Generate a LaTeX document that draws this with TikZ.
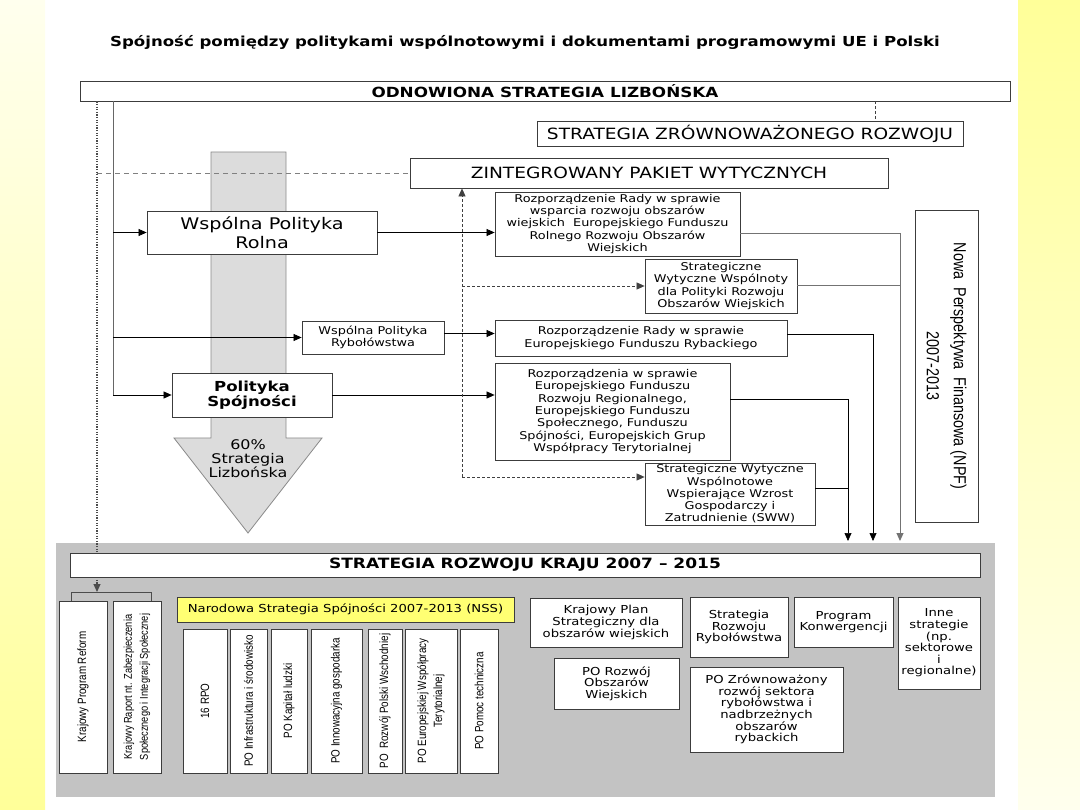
\documentclass[tikz,border=0pt]{standalone}
\usepackage{fontspec}
\setmainfont[FakeStretch=1.2]{DejaVu Sans}
\newfontfamily\narrowfont[FakeStretch=0.82]{Liberation Sans}
\usetikzlibrary{arrows.meta}
\definecolor{yel}{HTML}{FFFF99}
\definecolor{yelpale}{HTML}{FFFFEE}
\definecolor{panelc}{HTML}{C3C3C3}
\definecolor{colfill}{HTML}{DCDCDC}
\definecolor{colborder}{HTML}{8A8A8A}
\definecolor{boxc}{HTML}{3C3C3C}
\definecolor{nssc}{HTML}{FFFF73}
\tikzset{
  box/.style={draw=boxc, line width=0.8pt, fill=white, inner sep=0pt, align=center,
    font=\fontsize{10.7}{12.3}\selectfont},
  lowbox/.style={box, font=\fontsize{11}{11.6}\selectfont},
  vbox/.style={box, rotate=90, font=\narrowfont\fontsize{12}{16}\selectfont},
  arr/.style={-{Triangle[length=8pt,width=7pt]}},
  conn/.style={draw=black, line width=0.7pt},
  dotline/.style={draw=black!70, line width=1.2pt, dash pattern=on 1.3pt off 1.3pt},
  dashgray/.style={draw=black!50, line width=0.7pt, dash pattern=on 5pt off 4pt},
  dashdark/.style={draw=black!75, line width=0.7pt, dash pattern=on 3pt off 2pt},
}
\begin{document}
\begin{tikzpicture}[x=1pt,y=-1pt]
\useasboundingbox (0,0) rectangle (1080,810);
% background strips
\shade[top color=yelpale, bottom color=yel] (0,0) rectangle (45,810);
\shade[top color=yel, bottom color=yelpale] (1018,0) rectangle (1080,810);
% title
\node[font=\bfseries\fontsize{13.8}{15}\selectfont] (title) at (525,42)
  {Spójność pomiędzy politykami wspólnotowymi i dokumentami programowymi UE i Polski};
% bottom panel
\fill[panelc] (56,543) rectangle (995,797);
% gray column arrow
\draw[fill=colfill, draw=colborder, line width=0.8pt]
  (211,152) -- (286,152) -- (286,438) -- (322,438) -- (248,533) -- (174,438) -- (211,438) -- cycle;
\node[align=center, font=\fontsize{13.3}{14}\selectfont] (sixty) at (248,459) {60\%\\Strategia\\Lizbońska};

% top boxes
\node[box, minimum width=930, minimum height=20, font=\bfseries\fontsize{14}{15}\selectfont] (odn) at (545,91) {ODNOWIONA STRATEGIA LIZBOŃSKA};
\node[box, minimum width=426, minimum height=25, font=\fontsize{15.5}{17}\selectfont] (szr) at (750,133.5) {STRATEGIA ZRÓWNOWAŻONEGO ROZWOJU};
\node[box, minimum width=478, minimum height=30, font=\fontsize{15.5}{17}\selectfont] (zpw) at (649,173) {ZINTEGROWANY PAKIET WYTYCZNYCH};

% named coordinates
\coordinate (brk) at (97,592);
\coordinate (vx) at (113,101);
\coordinate (sx) at (875,101);
\coordinate (dx) at (462,477);
\coordinate (a1) at (848,541);
\coordinate (a2) at (873,541);
\coordinate (a3) at (900,541);
\coordinate (bl) at (71,592);
\coordinate (br) at (151,592);

% left policy boxes
\node[box, minimum width=230, minimum height=43, font=\fontsize{16}{19}\selectfont] (wpr) at (262,232.5) {Wspólna Polityka\\Rolna};
\node[box, minimum width=142, minimum height=33] (wpryb) at (373,337.5) {Wspólna Polityka\\Rybołówstwa};
\node[box, minimum width=160, minimum height=44, font=\bfseries\fontsize{13.8}{14.5}\selectfont] (ps) at (252,395) {Polityka\\Spójności};

% regulation boxes
\node[box, minimum width=245, minimum height=64] (rozp1) at (617.5,224) {Rozporządzenie Rady w sprawie\\wsparcia rozwoju obszarów\\wiejskich\ \ Europejskiego Funduszu\\Rolnego Rozwoju Obszarów\\Wiejskich};
\node[box, minimum width=152, minimum height=54] (swpr) at (721,286) {Strategiczne\\Wytyczne Wspólnoty\\dla Polityki Rozwoju\\Obszarów Wiejskich};
\node[box, minimum width=292, minimum height=36] (efr) at (641,338) {Rozporządzenie Rady w sprawie\\Europejskiego Funduszu Rybackiego};
\node[box, minimum width=235, minimum height=97] (efrr) at (612.5,411.5) {Rozporządzenia w sprawie\\Europejskiego Funduszu\\Rozwoju Regionalnego,\\Europejskiego Funduszu\\Społecznego, Funduszu\\Spójności, Europejskich Grup\\Współpracy Terytorialnej};
\node[box, minimum width=170, minimum height=62] (sww) at (730,494) {Strategiczne Wytyczne\\Wspólnotowe\\Wspierające Wzrost\\Gospodarczy i\\Zatrudnienie (SWW)};
\node[box, rotate=-90, minimum width=312, minimum height=63, font=\narrowfont\fontsize{17.5}{27}\selectfont] (npf) at (946.5,366) {Nowa\ \ Perspektywa\ \ Finansowa (NPF)\\2007-2013};

% connectors top
\draw[dotline, arr] (brk |- odn.south) -- (brk);
\draw[dashgray] (brk |- zpw.west) -- (zpw.west);
\draw[dashdark] (sx) -- (sx |- szr.north);
\draw[conn, draw=black!60, line width=1pt] (vx) -- (vx |- ps.west);
\draw[conn, arr] (vx |- wpr.west) -- (wpr.west);
\draw[conn, arr] (vx |- wpryb.west) -- (wpryb.west);
\draw[conn, arr] (vx |- ps.west) -- (ps.west);
\draw[conn, arr] (wpr.east) -- (wpr.east -| rozp1.west);
\draw[conn, arr] ([yshift=4pt]wpryb.east) -- ([yshift=4pt]wpryb.east -| efr.west);
\draw[conn, arr] (ps.east) -- (ps.east -| efrr.west);
\draw[dashdark, arr] (dx) -- (dx |- zpw.south);
\draw[dashdark, arr] (dx |- swpr.west) -- (swpr.west);
\draw[dashdark, arr] (dx) -- (dx -| sww.west);
% connectors right
\draw[conn, draw=black!55, line width=1pt, arr] ([yshift=-10pt]rozp1.east) -- ([yshift=-10pt]rozp1.east -| a3) -- (a3);
\draw[conn, draw=black!55, line width=1pt] (swpr.east) -- (swpr.east -| a3);
\draw[conn, arr] ([yshift=4pt]efr.east) -- ([yshift=4pt]efr.east -| a2) -- (a2);
\draw[conn, arr] ([yshift=12pt]efrr.east) -- ([yshift=12pt]efrr.east -| a1) -- (a1);
\draw[conn] ([yshift=6pt]sww.east) -- ([yshift=6pt]sww.east -| a1);

% bottom
\node[box, minimum width=910, minimum height=24, font=\bfseries\fontsize{14.2}{15}\selectfont] (srk) at (525,565) {STRATEGIA ROZWOJU KRAJU 2007 – 2015};
\node[vbox, minimum width=172, minimum height=48] (kpr) at (83,687) {Krajowy Program Reform};
\node[vbox, minimum width=172, minimum height=48, font=\narrowfont\fontsize{11.3}{16}\selectfont] (kraport) at (137,687) {Krajowy Raport nt. Zabezpieczenia\\Społecznego i Integracji Społecznej};
\draw[conn, draw=black!70] (bl |- kpr.east) -- (bl) -- (br) -- (br |- kraport.east);
\node[lowbox, fill=nssc, minimum width=337, minimum height=25] (nss) at (345.5,609.5) {Narodowa Strategia Spójności 2007-2013 (NSS)};
\node[vbox, minimum width=144, minimum height=44] (rpo) at (205,701) {16 RPO};
\node[vbox, minimum width=144, minimum height=37] (poi) at (248.5,701) {PO Infrastruktura i środowisko};
\node[vbox, minimum width=144, minimum height=36] (pok) at (289,701) {PO Kapitał ludzki};
\node[vbox, minimum width=144, minimum height=51] (poin) at (336.5,701) {PO Innowacyjna gospodarka};
\node[vbox, minimum width=144, minimum height=34] (porpw) at (385,701) {PO\ \ Rozwój Polski Wschodniej};
\node[vbox, minimum width=144, minimum height=52] (poewt) at (431,701) {PO Europejskiej Współpracy\\Terytorialnej};
\node[vbox, minimum width=144, minimum height=38] (popt) at (479,701) {PO Pomoc techniczna};
\node[lowbox, minimum width=152, minimum height=49] (kps) at (606,622.5) {Krajowy Plan\\Strategiczny dla\\obszarów wiejskich};
\node[lowbox, minimum width=98, minimum height=60] (srr) at (739,627) {Strategia\\Rozwoju\\Rybołówstwa};
\node[lowbox, minimum width=99, minimum height=50] (pk) at (843.5,622) {Program\\Konwergencji};
\node[lowbox, minimum width=82, minimum height=92] (inne) at (939,643) {Inne\\strategie\\(np.\\sektorowe\\i\\regionalne)};
\node[lowbox, minimum width=125, minimum height=51] (prow) at (616.5,683.5) {PO Rozwój\\Obszarów\\Wiejskich};
\node[lowbox, minimum width=153, minimum height=85] (pozr) at (766.5,709.5) {PO Zrównoważony\\rozwój sektora\\rybołówstwa i\\nadbrzeżnych\\obszarów\\rybackich};
\end{tikzpicture}
\end{document}
